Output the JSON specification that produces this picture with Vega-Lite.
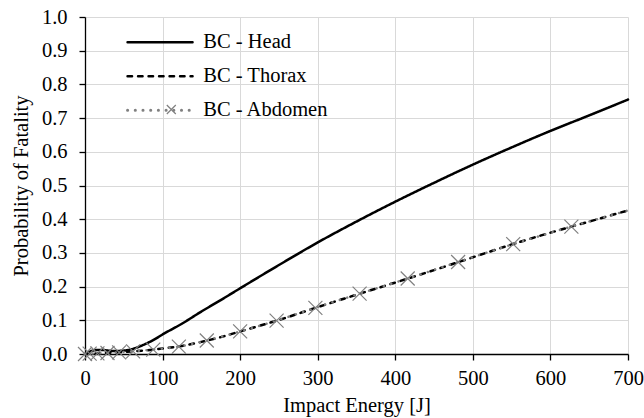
{
  "$schema": "https://vega.github.io/schema/vega-lite/v6.json",
  "width": 543,
  "height": 337,
  "autosize": {"type": "none"},
  "padding": {"left": 85, "top": 17, "right": 16, "bottom": 64},
  "background": "white",
  "config": {"view": {"stroke": null}, "font": "'Liberation Serif', serif"},
  "data": {"values": [
    {"s": "BC - Head", "x": 0, "y": 0},
    {"s": "BC - Head", "x": 5, "y": 0.006},
    {"s": "BC - Head", "x": 10, "y": 0.01},
    {"s": "BC - Head", "x": 15, "y": 0.012},
    {"s": "BC - Head", "x": 22, "y": 0.012},
    {"s": "BC - Head", "x": 30, "y": 0.01},
    {"s": "BC - Head", "x": 40, "y": 0.009},
    {"s": "BC - Head", "x": 50, "y": 0.01},
    {"s": "BC - Head", "x": 60, "y": 0.014},
    {"s": "BC - Head", "x": 70, "y": 0.022},
    {"s": "BC - Head", "x": 80, "y": 0.032},
    {"s": "BC - Head", "x": 90, "y": 0.044},
    {"s": "BC - Head", "x": 100, "y": 0.058},
    {"s": "BC - Head", "x": 125, "y": 0.09},
    {"s": "BC - Head", "x": 150, "y": 0.126},
    {"s": "BC - Head", "x": 175, "y": 0.16},
    {"s": "BC - Head", "x": 200, "y": 0.195},
    {"s": "BC - Head", "x": 250, "y": 0.264},
    {"s": "BC - Head", "x": 300, "y": 0.331},
    {"s": "BC - Head", "x": 350, "y": 0.393},
    {"s": "BC - Head", "x": 400, "y": 0.452},
    {"s": "BC - Head", "x": 450, "y": 0.508},
    {"s": "BC - Head", "x": 500, "y": 0.562},
    {"s": "BC - Head", "x": 550, "y": 0.613},
    {"s": "BC - Head", "x": 600, "y": 0.662},
    {"s": "BC - Head", "x": 650, "y": 0.708},
    {"s": "BC - Head", "x": 700, "y": 0.755},
    {"s": "BC - Thorax", "x": 0, "y": 0},
    {"s": "BC - Thorax", "x": 25, "y": 0.003},
    {"s": "BC - Thorax", "x": 50, "y": 0.006},
    {"s": "BC - Thorax", "x": 75, "y": 0.01},
    {"s": "BC - Thorax", "x": 100, "y": 0.016},
    {"s": "BC - Thorax", "x": 125, "y": 0.024},
    {"s": "BC - Thorax", "x": 150, "y": 0.036},
    {"s": "BC - Thorax", "x": 175, "y": 0.05},
    {"s": "BC - Thorax", "x": 200, "y": 0.067},
    {"s": "BC - Thorax", "x": 250, "y": 0.101},
    {"s": "BC - Thorax", "x": 300, "y": 0.139},
    {"s": "BC - Thorax", "x": 350, "y": 0.176},
    {"s": "BC - Thorax", "x": 400, "y": 0.212},
    {"s": "BC - Thorax", "x": 450, "y": 0.249},
    {"s": "BC - Thorax", "x": 500, "y": 0.287},
    {"s": "BC - Thorax", "x": 550, "y": 0.325},
    {"s": "BC - Thorax", "x": 600, "y": 0.36},
    {"s": "BC - Thorax", "x": 650, "y": 0.393},
    {"s": "BC - Thorax", "x": 700, "y": 0.426},
    {"s": "BC - Abdomen", "x": 0, "y": 0},
    {"s": "BC - Abdomen", "x": 6, "y": 0.001},
    {"s": "BC - Abdomen", "x": 16, "y": 0.002},
    {"s": "BC - Abdomen", "x": 29, "y": 0.003},
    {"s": "BC - Abdomen", "x": 44, "y": 0.005},
    {"s": "BC - Abdomen", "x": 62, "y": 0.008},
    {"s": "BC - Abdomen", "x": 88, "y": 0.013},
    {"s": "BC - Abdomen", "x": 121, "y": 0.022},
    {"s": "BC - Abdomen", "x": 157, "y": 0.04},
    {"s": "BC - Abdomen", "x": 200, "y": 0.067},
    {"s": "BC - Abdomen", "x": 247, "y": 0.099},
    {"s": "BC - Abdomen", "x": 297, "y": 0.137},
    {"s": "BC - Abdomen", "x": 354, "y": 0.179},
    {"s": "BC - Abdomen", "x": 416, "y": 0.224},
    {"s": "BC - Abdomen", "x": 481, "y": 0.273},
    {"s": "BC - Abdomen", "x": 552, "y": 0.326},
    {"s": "BC - Abdomen", "x": 627, "y": 0.378},
    {"s": "BC - Abdomen", "x": 700, "y": 0.426}
  ]},
  "encoding": {
    "x": {
      "field": "x", "type": "quantitative",
      "scale": {"domain": [0, 700], "nice": false, "zero": false},
      "axis": {
        "values": [0, 100, 200, 300, 400, 500, 600, 700],
        "title": "Impact Energy [J]",
        "grid": true, "gridColor": "#d9d9d9", "gridWidth": 1,
        "domainColor": "black", "domainWidth": 1.3,
        "tickColor": "black", "tickWidth": 1.3, "tickSize": 6,
        "labelFont": "'Liberation Serif', serif", "labelFontSize": 20.5, "labelColor": "black", "labelPadding": 8,
        "labelFlush": false, "labelOverlap": false,
        "titleFont": "'Liberation Serif', serif", "titleFontSize": 20.5, "titleFontWeight": "normal", "titleColor": "black", "titlePadding": 7
      }
    },
    "y": {
      "field": "y", "type": "quantitative",
      "scale": {"domain": [0, 1], "nice": false},
      "axis": {
        "values": [0, 0.1, 0.2, 0.3, 0.4, 0.5, 0.6, 0.7, 0.8, 0.9, 1.0],
        "format": ".1f",
        "title": "Probability of Fatality",
        "grid": true, "gridColor": "#d9d9d9", "gridWidth": 1,
        "domainColor": "black", "domainWidth": 1.3,
        "tickColor": "black", "tickWidth": 1.3, "tickSize": 6,
        "labelFont": "'Liberation Serif', serif", "labelFontSize": 20.5, "labelColor": "black", "labelPadding": 12,
        "labelFlush": false, "labelOverlap": false,
        "titleFont": "'Liberation Serif', serif", "titleFontSize": 20.5, "titleFontWeight": "normal", "titleColor": "black", "titlePadding": 10
      }
    }
  },
  "layer": [
    {
      "mark": {"type": "line", "interpolate": "monotone", "strokeCap": "round", "strokeWidth": 2.5},
      "encoding": {
        "color": {
          "field": "s", "type": "nominal",
          "sort": ["BC - Head", "BC - Thorax", "BC - Abdomen"],
          "scale": {"range": ["#000000", "#000000", "#808080"]},
          "legend": {
            "orient": "none", "legendX": 64.8, "legendY": 15,
            "title": null, "padding": 0,
            "symbolType": "M-5,0H5", "symbolSize": 169, "symbolStrokeWidth": 2.5,
            "labelFont": "'Liberation Serif', serif", "labelFontSize": 20.5, "labelColor": "black",
            "labelOffset": 33, "rowPadding": 13,
            "encode": {"symbols": {"update": {
              "strokeCap": {"value": "round"},
              "strokeWidth": {"signal": "datum.value === 'BC - Abdomen' ? 3 : 2.5"},
              "strokeDash": {"signal": "datum.value === 'BC - Thorax' ? [4.5, 6] : datum.value === 'BC - Abdomen' ? [0.1, 7.6] : [1, 0]"}
            }}}
          }
        },
        "strokeDash": {
          "field": "s", "type": "nominal",
          "sort": ["BC - Head", "BC - Thorax", "BC - Abdomen"],
          "scale": {"range": [[1, 0], [4.5, 6], [0.1, 7.6]]},
          "legend": null
        },
        "strokeWidth": {
          "field": "s", "type": "nominal",
          "sort": ["BC - Head", "BC - Thorax", "BC - Abdomen"],
          "scale": {"range": [2.5, 2.5, 3]},
          "legend": null
        }
      }
    },
    {
      "transform": [{"filter": "datum.s === 'BC - Abdomen' && datum.x < 700"}],
      "mark": {"type": "point", "filled": false, "strokeWidth": 1.2, "color": "#808080", "size": 196, "opacity": 1},
      "encoding": {
        "shape": {
          "field": "s", "type": "nominal",
          "scale": {"domain": ["BC - Head", "BC - Thorax", "BC - Abdomen"], "range": ["M0,0", "M0,0", "M-1,-1L1,1M-1,1L1,-1"]},
          "legend": {
            "orient": "none", "legendX": 80.8, "legendY": 87,
            "values": ["BC - Abdomen"],
            "title": null, "padding": 0,
            "symbolSize": 81, "symbolStrokeWidth": 1.2, "symbolStrokeColor": "#808080", "symbolFillColor": "transparent",
            "labelExpr": "''", "labelFontSize": 1, "labelOffset": 0
          }
        }
      }
    }
  ]
}
